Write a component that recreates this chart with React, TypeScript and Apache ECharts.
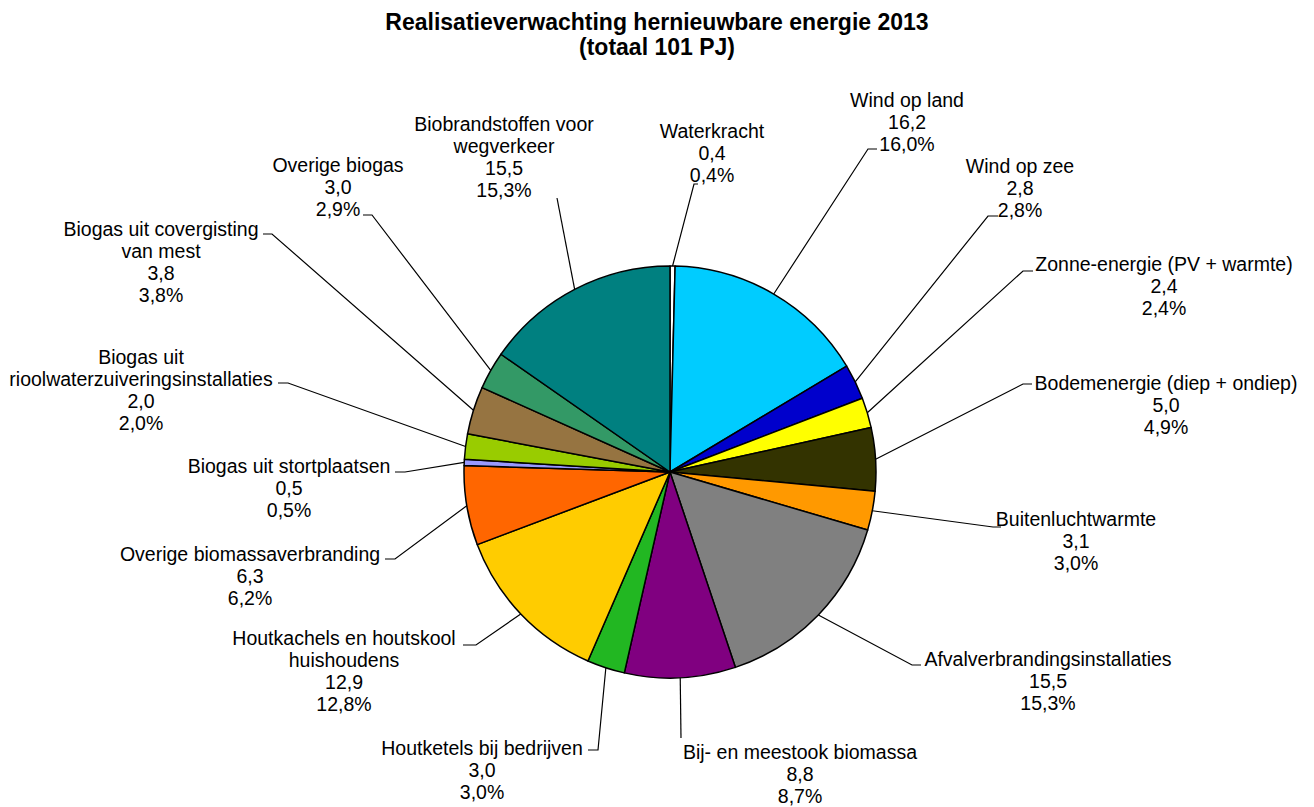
import React, { useEffect, useRef } from "react";
import * as echarts from "echarts";

const categories = [
  "Waterkracht",
  "Wind op land",
  "Wind op zee",
  "Zonne-energie (PV + warmte)",
  "Bodemenergie (diep + ondiep)",
  "Buitenluchtwarmte",
  "Afvalverbrandingsinstallaties",
  "Bij- en meestook biomassa",
  "Houtketels bij bedrijven",
  "Houtkachels en houtskool\nhuishoudens",
  "Overige biomassaverbranding",
  "Biogas uit stortplaatsen",
  "Biogas uit\nrioolwaterzuiveringsinstallaties",
  "Biogas uit covergisting\nvan mest",
  "Overige biogas",
  "Biobrandstoffen voor\nwegverkeer",
];
const values = [0.4, 16.2, 2.8, 2.4, 5.0, 3.1, 15.5, 8.8, 3.0, 12.9, 6.3, 0.5, 2.0, 3.8, 3.0, 15.5];
const percents = [0.4, 16.0, 2.8, 2.4, 4.9, 3.0, 15.3, 8.7, 3.0, 12.8, 6.2, 0.5, 2.0, 3.8, 2.9, 15.3];
const colors = [
  "#FFFFFF", "#00CCFF", "#0000CC", "#FFFF00", "#333300", "#FF9900", "#808080", "#800080",
  "#22B722", "#FFCC00", "#FF6600", "#9999FF", "#99CC00", "#967441", "#339966", "#008080",
];

// layout (label anchors and leader line bends), pixel positions
const CX = 670;
const CY = 472;
const R = 206;
const labelPos: number[][] = [
  [712, 120], [907, 89], [1020, 155], [1164, 253], [1166, 372], [1076, 508], [1048, 648], [800, 741],
  [482, 737], [344, 627], [250, 543], [289, 455], [141, 346], [161, 218], [338, 154], [504, 113],
];
const lineBend: number[][] = [
  [694, 184], [868, 149], [988, 216], [1023, 271], [1023, 384], [993, 527], [912, 665], [681, 738],
  [598, 750], [476, 645], [395, 559], [405, 472], [288, 383], [272, 234], [372, 215], [557, 198],
];
const lineEnd: number[][] = [
  [698, 184], [877, 149], [998, 216], [1033, 271], [1032, 384], [1001, 527], [921, 665], [681, 738],
  [588, 750], [463, 645], [385, 559], [395, 472], [278, 383], [263, 234], [363, 215], [557, 198],
];

const fmt = (v: number) => v.toFixed(1).replace(".", ",");

export default function App() {
  const ref = useRef<HTMLDivElement>(null);
  useEffect(() => {
    if (!ref.current) return;
    const chart = echarts.init(ref.current, null, { renderer: "svg" });
    const total = values.reduce((a, b) => a + b, 0);
    const font = "'Liberation Sans', Arial, sans-serif";
    chart.setOption({
      animation: false,
      backgroundColor: "#ffffff",
      title: {
        text: "Realisatieverwachting hernieuwbare energie 2013\n(totaal 101 PJ)",
        left: "center",
        top: 4,
        textStyle: { fontFamily: font, fontSize: 23, fontWeight: "bold", color: "#000", lineHeight: 25 },
      },
      series: [
        {
          type: "pie",
          center: [CX, CY],
          radius: R,
          startAngle: 90,
          clockwise: true,
          avoidLabelOverlap: false,
          itemStyle: { borderColor: "#000", borderWidth: 1.5 },
          label: {
            show: true,
            position: "outside",
            overflow: "none",
            fontFamily: font,
            fontSize: 19.5,
            lineHeight: 22,
            color: "#000",
            align: "center",
            formatter: (p: any) => `${p.name}\n${fmt(values[p.dataIndex])}\n${fmt(percents[p.dataIndex])}%`,
          },
          labelLine: { show: true, lineStyle: { color: "#000", width: 1.2 } },
          labelLayout: (params: any) => {
            const i = params.dataIndex;
            let cum = 0;
            for (let j = 0; j < i; j++) cum += values[j];
            const mid = ((cum + values[i] / 2) / total) * Math.PI * 2;
            const ex = CX + R * Math.sin(mid);
            const ey = CY - R * Math.cos(mid);
            return {
              x: labelPos[i][0],
              y: labelPos[i][1],
              align: "center",
              verticalAlign: "top",
              labelLinePoints: [[ex, ey], lineBend[i], lineEnd[i]],
            };
          },
          emphasis: { disabled: true },
          data: categories.map((name, i) => ({ name, value: values[i], itemStyle: { color: colors[i] } })),
        },
      ],
    });
    return () => chart.dispose();
  }, []);
  return <div ref={ref} style={{ position: "fixed", left: 0, top: 0, width: 1314, height: 807 }} />;
}
